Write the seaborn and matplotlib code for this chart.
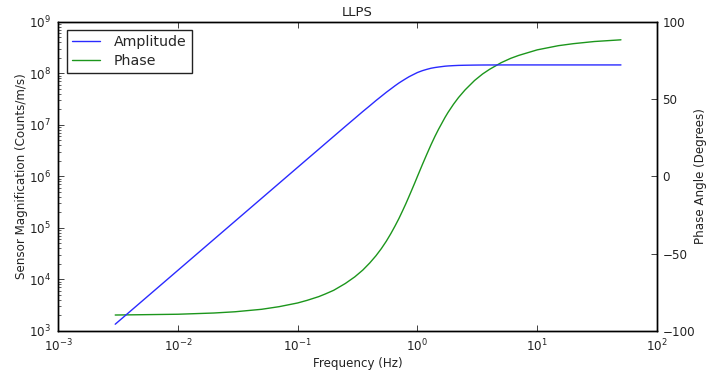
import matplotlib
matplotlib.use("Agg")
import matplotlib.pyplot as plt
import seaborn as sns
import pandas as pd
from matplotlib.ticker import LogLocator, FixedLocator

# ---- data ----
freq = [0.003, 0.005, 0.01, 0.02, 0.03, 0.05, 0.07, 0.1, 0.12, 0.15, 0.17, 0.2,
        0.25, 0.3, 0.35, 0.4, 0.45, 0.5, 0.55, 0.6, 0.65, 0.7, 0.75, 0.8, 0.85,
        0.9, 0.95, 1.0, 1.1, 1.2, 1.3, 1.4, 1.5, 1.7, 1.8, 2.0, 2.2, 2.5, 3.0,
        3.5, 4.0, 5.0, 6.0, 7.0, 10.0, 15.0, 20.0, 30.0, 50.0]
amplitude = [1.35e3, 3.75e3, 1.5e4, 6.0e4, 1.35e5, 3.75e5, 7.35e5, 1.5e6, 2.16e6,
             3.37e6, 4.33e6, 5.99e6, 9.35e6, 1.34e7, 1.82e7, 2.35e7, 2.96e7,
             3.6e7, 4.3e7, 5.0e7, 5.75e7, 6.5e7, 7.2e7, 7.9e7, 8.6e7, 9.2e7,
             9.8e7, 1.04e8, 1.13e8, 1.2e8, 1.26e8, 1.30e8, 1.33e8, 1.38e8,
             1.395e8, 1.415e8, 1.43e8, 1.44e8, 1.45e8, 1.455e8, 1.457e8, 1.459e8,
             1.46e8, 1.46e8, 1.46e8, 1.46e8, 1.46e8, 1.46e8, 1.46e8]
phase = [-89.7, -89.5, -89.2, -88.4, -87.6, -86.0, -84.3, -81.9, -80.2, -77.8,
         -76.1, -73.7, -69.3, -65.0, -60.6, -56.0, -51.4, -46.7, -41.9, -37.0,
         -32.1, -27.3, -22.4, -17.7, -13.0, -8.5, -4.2, 0.0, 7.7, 14.5, 20.6,
         25.9, 30.5, 38.2, 41.4, 46.7, 51.0, 56.0, 62.1, 66.3, 69.3, 73.6, 76.4,
         78.3, 81.9, 84.6, 85.9, 87.3, 88.4]
title = "LLPS"
xlabel = "Frequency (Hz)"
ylabel_left = "Sensor Magnification (Counts/m/s)"
ylabel_right = "Phase Angle (Degrees)"
series_names = ["Amplitude", "Phase"]
phase_ticks = [-100, -50, 0, 50, 100]

df_amp = pd.DataFrame({"f": freq, "v": amplitude})
df_ph = pd.DataFrame({"f": freq, "v": phase})

sns.set_style("ticks")
plt.rcParams["font.family"] = ["DejaVu Sans"]
plt.rcParams["mathtext.fontset"] = "dejavusans"

fs = 8.6
txt = "#222222"
fig = plt.figure(figsize=(7.08, 3.71), dpi=100)
ax = fig.add_axes([0.082, 0.108, 0.846, 0.833])
ax2 = ax.twinx()

sns.lineplot(data=df_amp, x="f", y="v", ax=ax, color="#2a2aff", lw=1.0,
             label=series_names[0], legend=False, sort=False)
sns.lineplot(data=df_ph, x="f", y="v", ax=ax2, color="#1c961c", lw=1.0,
             label=series_names[1], legend=False, sort=False)

ax.set_xscale("log")
ax.set_yscale("log")
ax.set_xlim(1e-3, 1e2)
ax.set_ylim(1e3, 1e9)
ax2.set_ylim(-100, 100)
ax2.yaxis.set_major_locator(FixedLocator(phase_ticks))

ax.xaxis.set_major_locator(LogLocator(base=10, numticks=20))
ax.xaxis.set_minor_locator(LogLocator(base=10, subs=range(2, 10), numticks=20))
ax.yaxis.set_major_locator(LogLocator(base=10, numticks=20))
ax.yaxis.set_minor_locator(LogLocator(base=10, subs=range(2, 10), numticks=20))

for a in (ax, ax2):
    for s in a.spines.values():
        s.set_visible(True)
        s.set_color("black")
        s.set_linewidth(1.0)

ax.tick_params(which="both", direction="in", top=True, right=False,
               labelsize=fs, colors=txt, pad=5)
ax.tick_params(which="major", length=4, width=0.6)
ax.tick_params(which="minor", length=2, width=0.5)
ax2.tick_params(which="both", direction="in", left=False, right=True,
                labelsize=fs, colors=txt, pad=4)
ax2.tick_params(which="major", length=4, width=0.6)
ax2.minorticks_off()

ax.set_title(title, fontsize=9.5, color=txt, pad=4)
ax.set_xlabel(xlabel, fontsize=fs, color=txt, labelpad=2)
ax.set_ylabel(ylabel_left, fontsize=fs, color=txt, labelpad=1)
ax2.set_xlabel("")
ax2.set_ylabel(ylabel_right, fontsize=fs, color=txt, labelpad=-1)

h1, l1 = ax.get_legend_handles_labels()
h2, l2 = ax2.get_legend_handles_labels()
leg = ax.legend(h1 + h2, l1 + l2, loc="upper left", fontsize=10.2,
                frameon=True, fancybox=False, shadow=False,
                borderaxespad=0.6, handlelength=2.0, handletextpad=1.0,
                labelspacing=0.3, borderpad=0.35)
leg.get_frame().set_edgecolor(txt)
leg.get_frame().set_linewidth(1.0)
leg.get_frame().set_alpha(1.0)
leg.set_zorder(10)
ax.set_zorder(ax2.get_zorder() + 1)
ax.patch.set_visible(False)

fig.savefig("out.png", dpi=100)
